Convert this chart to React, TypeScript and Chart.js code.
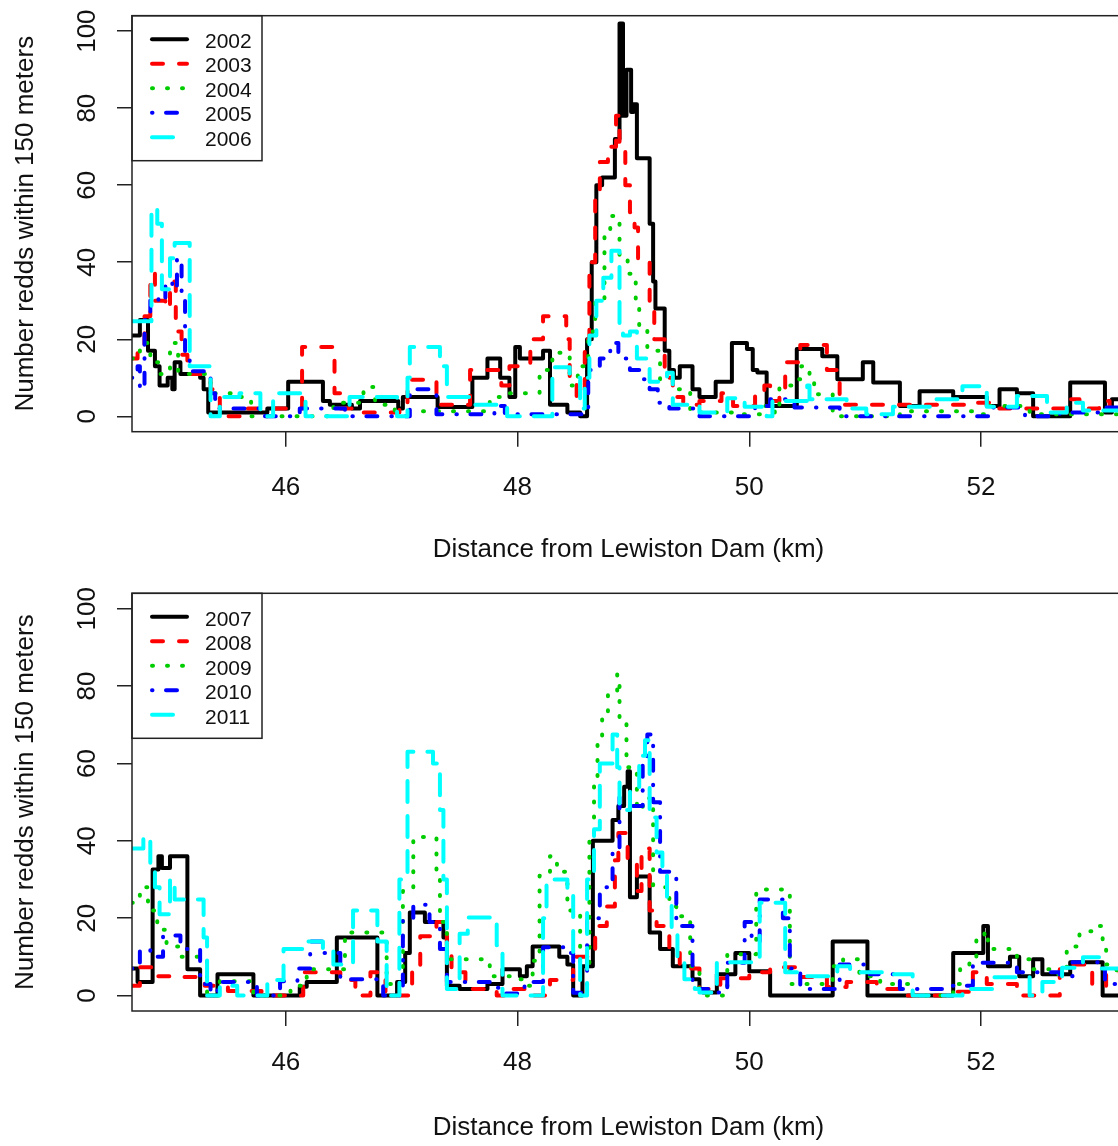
import React, { useEffect, useRef } from "react";
import { Chart, registerables } from "chart.js";

Chart.register(...registerables);

type Pair = [number, number];

const yearsTop = ["2002", "2003", "2004", "2005", "2006"];
const yearsBottom = ["2007", "2008", "2009", "2010", "2011"];
const xTickValues = [46, 48, 50, 52];
const yTickValues = [0, 20, 40, 60, 80, 100];
const xTitle = "Distance from Lewiston Dam (km)";
const yTitle = "Number redds within 150 meters";

// [distance km, redds] step change points (value holds from x until next point)
const r2002: Pair[] = [[44.67,21],[44.74,25],[44.81,17],[44.87,13],[44.91,8],[44.98,10],[45.02,7],[45.04,14],[45.09,11],[45.26,10],[45.29,7],[45.33,1],[45.84,2],[46.02,9],[46.32,4],[46.38,3],[46.57,2],[46.64,4],[46.97,2],[47.01,5],[47.31,2.4],[47.61,10],[47.74,15],[47.85,10],[47.93,5],[47.98,18],[48.02,15],[48.22,17],[48.28,3],[48.43,1],[48.54,0],[48.6,20],[48.64,40],[48.68,60],[48.73,62],[48.84,72],[48.88,102],[48.91,78],[48.94,90],[48.98,79],[49.0,81],[49.03,67],[49.14,50],[49.17,35],[49.19,28],[49.27,17],[49.31,12],[49.35,10],[49.4,13],[49.51,7],[49.57,5],[49.71,9],[49.85,19],[49.98,17.5],[50.03,12],[50.07,11.4],[50.15,2.7],[50.41,17.5],[50.63,15.6],[50.76,9.6],[50.98,14],[51.07,8.8],[51.3,2.7],[51.47,6.5],[51.76,5],[52.05,2.7],[52.16,7],[52.31,6],[52.45,0],[52.77,8.8],[53.07,1],[53.13,4.4],[53.6,4.4]];
const r2003: Pair[] = [[44.67,15],[44.72,18],[44.78,26],[44.83,37],[44.87,30],[44.96,28],[45.0,35],[45.05,22],[45.1,16],[45.15,11],[45.35,7],[45.43,0],[45.65,2],[46.14,18],[46.42,6],[46.47,2],[46.64,1],[46.98,3],[47.05,9.5],[47.3,3],[47.59,12],[47.86,8],[47.93,13],[48.11,20],[48.22,26],[48.42,20],[48.45,9],[48.51,5],[48.58,20],[48.62,40],[48.67,56],[48.71,66],[48.78,70],[48.85,78],[48.88,70],[48.93,60],[48.97,53],[49.01,49],[49.04,41],[49.14,30],[49.18,20],[49.27,10],[49.34,5],[49.43,3],[49.57,4],[49.76,6],[49.86,2.7],[50.05,6],[50.13,8],[50.18,4],[50.26,6],[50.31,14],[50.44,18.5],[50.67,12],[50.78,3],[51.95,3.5],[52.08,2],[52.74,4.4],[52.85,2],[53.02,4],[53.11,2],[53.6,2]];
const r2004: Pair[] = [[44.67,15],[44.74,19],[44.83,14],[44.91,11],[45.0,19],[45.07,11],[45.35,6],[45.56,5],[45.63,4],[45.7,0],[46.41,3.5],[46.67,7.6],[46.77,3],[46.94,1.3],[47.76,5],[47.93,6],[48.19,12],[48.3,16.5],[48.45,8],[48.52,13],[48.61,22],[48.67,30],[48.75,47.5],[48.8,52],[48.88,41],[48.95,37],[49.02,30],[49.05,22.6],[49.12,17],[49.23,9.6],[49.34,7],[49.49,1],[49.86,0.5],[50.13,2.7],[50.22,0.8],[50.26,8],[50.39,9.6],[50.45,13],[50.52,9.6],[50.56,5.7],[50.72,0],[51.3,1.3],[51.99,0.5],[52.03,2.7],[52.42,0.5],[53.6,0.5]];
const r2005: Pair[] = [[44.67,10],[44.72,13],[44.74,7],[44.78,25],[44.83,31],[44.9,29.7],[44.96,35],[45.02,33],[45.06,41],[45.1,30],[45.13,15],[45.17,11.7],[45.35,6],[45.39,2],[45.82,0],[46.12,2],[46.51,0],[47.07,7],[47.3,0.5],[47.8,2.7],[47.89,0.5],[48.61,12],[48.71,15],[48.8,19],[48.87,15],[48.97,12],[49.05,9.6],[49.14,7],[49.21,3.5],[49.31,2],[49.57,0],[50.05,2.7],[50.18,4.4],[50.39,2.3],[50.78,0],[52.08,2.3],[52.38,0],[52.68,1],[53.02,2.3],[53.6,2.3]];
const r2006: Pair[] = [[44.67,24.7],[44.84,54],[44.89,50],[44.93,33],[45.0,41],[45.04,45],[45.17,13],[45.35,0],[45.43,5],[45.6,6],[45.78,0],[45.89,6],[46.17,0],[46.55,5],[46.96,0],[47.05,10],[47.07,18],[47.33,13],[47.39,5],[47.59,3],[47.91,0],[48.3,12.7],[48.45,10],[48.54,2],[48.58,10],[48.62,21],[48.68,30],[48.74,36],[48.81,43],[48.88,24],[48.91,21],[48.97,22],[49.03,15],[49.14,9],[49.29,11.3],[49.34,3],[49.57,1],[49.81,4.7],[49.96,2.5],[50.15,0],[50.2,4],[50.5,8],[50.52,4.4],[50.84,2],[51.01,0.5],[51.24,2.5],[51.58,4.4],[51.84,7.8],[52.05,2.5],[52.31,5.3],[52.57,1],[52.74,3.5],[52.88,1.5],[53.6,1.5]];

const r2007: Pair[] = [[44.67,7],[44.72,3.5],[44.85,32.6],[44.9,36],[44.93,33],[45.0,36],[45.15,6.8],[45.26,0],[45.41,5.5],[45.72,0],[46.12,2.3],[46.18,3.5],[46.44,15],[46.79,0],[46.96,3.5],[47.03,11],[47.07,21.5],[47.2,19],[47.36,15],[47.39,2.5],[47.5,1.7],[47.74,3],[47.87,6.8],[48.02,5],[48.08,7.6],[48.13,12.7],[48.36,10],[48.43,8],[48.48,0],[48.56,7.6],[48.65,40],[48.82,45.4],[48.87,49],[48.92,54],[48.95,58],[48.97,25.4],[49.03,30.8],[49.14,16.3],[49.23,12],[49.34,7.6],[49.51,4.2],[49.57,1.7],[49.6,0.8],[49.72,5.5],[49.88,11],[50.0,6.3],[50.18,0],[50.72,14],[51.02,0],[51.76,11],[52.02,18],[52.06,7.6],[52.25,10],[52.33,5],[52.45,9.4],[52.53,5.5],[52.77,8.6],[53.05,0],[53.6,0]];
const r2008: Pair[] = [[44.67,2.5],[44.74,7.3],[44.87,5],[45.03,4.8],[45.3,2.5],[45.5,1.2],[45.79,0],[46.15,6],[46.47,4],[46.6,0],[46.73,6],[46.86,0],[47.09,6],[47.16,15.3],[47.3,19],[47.39,11],[47.43,6],[47.55,1.7],[47.82,0],[47.91,1.7],[48.06,0],[48.28,4],[48.48,10],[48.67,18],[48.77,23],[48.84,35],[48.87,42],[48.95,35],[49.03,27],[49.07,38],[49.14,22],[49.2,18],[49.31,11],[49.4,7],[49.57,1.7],[49.75,4.5],[50.0,6],[50.18,7.3],[50.41,4.8],[50.67,2.2],[50.84,3.5],[51.1,1.7],[51.36,0],[51.7,1],[51.93,6],[52.05,3],[52.31,0],[52.68,6.8],[52.79,8],[52.96,2.5],[53.08,6],[53.6,6]];
const r2009: Pair[] = [[44.67,24],[44.74,28],[44.81,22],[44.89,17],[44.97,12.7],[45.09,10],[45.32,0],[45.43,3.7],[45.72,0],[46.04,2.5],[46.18,6.8],[46.51,16.3],[46.87,3],[47.01,27],[47.1,41],[47.3,30],[47.33,19],[47.39,9.4],[47.76,5],[47.96,4.2],[48.08,2.5],[48.13,9],[48.19,31],[48.28,36],[48.34,32],[48.43,22],[48.54,8],[48.62,42],[48.66,55],[48.69,65],[48.73,73],[48.78,78.4],[48.86,83],[48.88,71],[48.94,59],[49.03,48],[49.08,51],[49.17,28],[49.31,23],[49.37,20.5],[49.49,7.6],[49.57,0],[49.81,10.7],[50.06,27.4],[50.35,3],[50.72,7.6],[50.81,9.4],[50.95,5],[51.13,3],[51.41,0],[51.76,3],[51.82,7.6],[51.9,10],[51.96,14.6],[52.03,16.6],[52.06,12],[52.31,9.4],[52.42,6.8],[52.59,5.5],[52.74,12.7],[52.85,16.6],[52.96,18],[53.05,12],[53.08,8],[53.17,4],[53.6,4]];
const r2010: Pair[] = [[44.67,7],[44.74,12],[44.83,10],[44.94,15.5],[45.09,12],[45.26,3],[45.35,0.5],[45.41,3.5],[45.69,2.5],[45.75,0],[45.95,3.7],[46.1,7],[46.21,14],[46.32,11],[46.47,4.2],[46.84,0],[47.01,20],[47.1,23.5],[47.24,19],[47.33,12],[47.39,3.5],[47.76,2],[47.85,0.5],[48.06,3.5],[48.22,12.5],[48.43,11],[48.48,0.7],[48.6,20],[48.71,28],[48.82,38],[48.88,52],[48.97,49],[49.08,60],[49.12,67.5],[49.17,50],[49.23,32],[49.37,18],[49.51,1.7],[49.66,0.8],[49.81,8.5],[49.96,19],[50.02,14],[50.09,24.8],[50.29,20],[50.35,7],[50.44,1.7],[50.78,8],[51.04,5.5],[51.3,1.7],[51.7,2.5],[51.93,8.5],[52.31,6],[52.68,5],[52.79,8.6],[53.07,3],[53.6,3]];
const r2011: Pair[] = [[44.67,38],[44.77,41],[44.83,33],[44.87,28],[44.91,21],[45.0,30],[45.04,24.8],[45.29,15],[45.32,0],[45.43,2.5],[45.58,0],[45.84,4],[45.98,12],[46.15,14],[46.32,12],[46.41,8],[46.58,22],[46.79,14],[46.87,0],[46.98,30],[47.05,63],[47.27,60],[47.33,48],[47.36,30],[47.39,1.7],[47.5,16],[47.57,20.2],[47.82,13],[47.87,0],[48.22,20],[48.25,30],[48.43,27],[48.48,10],[48.54,0],[48.6,30],[48.66,43],[48.71,60],[48.82,67.5],[48.86,59],[48.88,48],[48.97,53],[49.05,62],[49.1,66],[49.14,46],[49.2,37],[49.25,33.4],[49.29,24],[49.33,16],[49.38,9],[49.44,4.2],[49.53,1.7],[49.57,0.8],[49.72,8.6],[50.09,24],[50.31,6],[50.44,5],[50.76,7.6],[50.87,6],[51.19,5.5],[51.41,0],[51.84,1.7],[52.1,4.7],[52.42,0],[52.53,3.5],[52.7,7.2],[52.88,9.9],[53.02,7],[53.6,7]];

const seriesTop = [r2002, r2003, r2004, r2005, r2006];
const seriesBottom = [r2007, r2008, r2009, r2010, r2011];

const COLORS = ["#000000", "#FF0000", "#00CD00", "#0000FF", "#00FFFF"];
// dash lengths are for round caps of a 4px line (caps add 4px to each dash)
const DASHES: number[][] = [[], [11, 16], [1, 14], [0.5, 13.5, 11, 14], [21, 14]];
const LINE_W = 4;
const FONT = "'Liberation Sans', Arial, Helvetica, sans-serif";
const TEXT = "#111111";
const FRAME = "#222222";

const legendPlugin = {
  id: "rLegend",
  afterDatasetsDraw(chart: any) {
    const { ctx, chartArea: a } = chart;
    const w = 130, h = 145;
    ctx.save();
    ctx.fillStyle = "#ffffff";
    ctx.fillRect(a.left, a.top, w, h);
    ctx.lineWidth = 1.5;
    ctx.strokeStyle = FRAME;
    ctx.setLineDash([]);
    ctx.strokeRect(a.left, a.top, w, h);
    chart.data.datasets.forEach((ds: any, i: number) => {
      const y = a.top + 23.5 + i * 24.5;
      ctx.beginPath();
      ctx.setLineDash(DASHES[i]);
      ctx.lineCap = "round";
      ctx.strokeStyle = COLORS[i];
      ctx.lineWidth = LINE_W;
      ctx.moveTo(a.left + 20, y);
      ctx.lineTo(a.left + 55, y);
      ctx.stroke();
      ctx.setLineDash([]);
      ctx.fillStyle = TEXT;
      ctx.font = `21px ${FONT}`;
      ctx.textBaseline = "middle";
      ctx.textAlign = "left";
      ctx.fillText(ds.label, a.left + 73, y + 3);
    });
    ctx.restore();
  },
};

const framePlugin = {
  id: "rFrame",
  afterDraw(chart: any) {
    const { ctx, chartArea: a } = chart;
    ctx.save();
    ctx.setLineDash([]);
    ctx.strokeStyle = FRAME;
    ctx.lineWidth = 1.5;
    ctx.strokeRect(a.left, a.top, a.right - a.left, a.bottom - a.top);
    ctx.restore();
  },
};

type PanelProps = {
  series: Pair[][];
  labels: string[];
  height: number;
  top: number;
  xHeight: number;
  tickPad: number;
  titlePad: number;
};

function Panel({ series, labels, height, top, xHeight, tickPad, titlePad }: PanelProps) {
  const ref = useRef<HTMLCanvasElement>(null);
  useEffect(() => {
    if (!ref.current) return;
    const chart = new Chart(ref.current, {
      type: "line",
      data: {
        datasets: series.map((s, i) => ({
          label: labels[i],
          data: s.map(([x, y]) => ({ x, y })),
          borderColor: COLORS[i],
          backgroundColor: COLORS[i],
          borderWidth: LINE_W,
          borderDash: DASHES[i],
          borderCapStyle: "round",
          borderJoinStyle: "round",
          stepped: true,
          pointRadius: 0,
          fill: false,
          order: 10 - i,
        })),
      },
      options: {
        animation: false,
        responsive: false,
        events: [],
        layout: { padding: { top, left: 0, right: 0, bottom: 0 } },
        plugins: { legend: { display: false }, tooltip: { enabled: false } },
        scales: {
          x: {
            type: "linear",
            min: 44.672,
            max: 53.243,
            afterBuildTicks: (s: any) => {
              s.ticks = xTickValues.map((v) => ({ value: v }));
            },
            afterFit: (s: any) => {
              s.height = xHeight;
              s.paddingLeft = 0;
              s.paddingRight = 0;
            },
            grid: { display: true, drawOnChartArea: false, drawTicks: true, tickLength: 15, color: FRAME, lineWidth: 1.5 },
            border: { display: false },
            ticks: { font: { family: FONT, size: 26 }, color: TEXT, padding: tickPad, maxRotation: 0, autoSkip: false },
            title: { display: true, text: xTitle, font: { family: FONT, size: 26 }, color: TEXT, padding: { top: 0, bottom: titlePad } },
          },
          y: {
            type: "linear",
            min: -4,
            max: 104,
            afterBuildTicks: (s: any) => {
              s.ticks = yTickValues.map((v) => ({ value: v }));
            },
            afterFit: (s: any) => {
              s.width = 132;
              s.paddingTop = 0;
              s.paddingBottom = 0;
            },
            grid: { display: true, drawOnChartArea: false, drawTicks: true, tickLength: 15, color: FRAME, lineWidth: 1.5 },
            border: { display: false },
            ticks: { font: { family: FONT, size: 26 }, color: TEXT, padding: 7, minRotation: 90, maxRotation: 90, crossAlign: "center", autoSkip: false },
            title: { display: true, text: yTitle, font: { family: FONT, size: 26 }, color: TEXT, padding: { top: 10.5, bottom: 0 } },
          },
        },
      } as any,
      plugins: [legendPlugin, framePlugin],
    });
    return () => chart.destroy();
  }, []);
  return <canvas ref={ref} width={1125} height={height} style={{ display: "block" }} />;
}

export default function App() {
  return (
    <div style={{ position: "absolute", left: 0, top: 0, width: 1118, height: 1146, overflow: "hidden", background: "#ffffff" }}>
      <Panel series={seriesTop} labels={yearsTop} height={578} top={15.7} xHeight={146.3} tickPad={25.7} titlePad={12.4} />
      <Panel series={seriesBottom} labels={yearsBottom} height={568} top={15.3} xHeight={135} tickPad={20.9} titlePad={2.4} />
    </div>
  );
}
